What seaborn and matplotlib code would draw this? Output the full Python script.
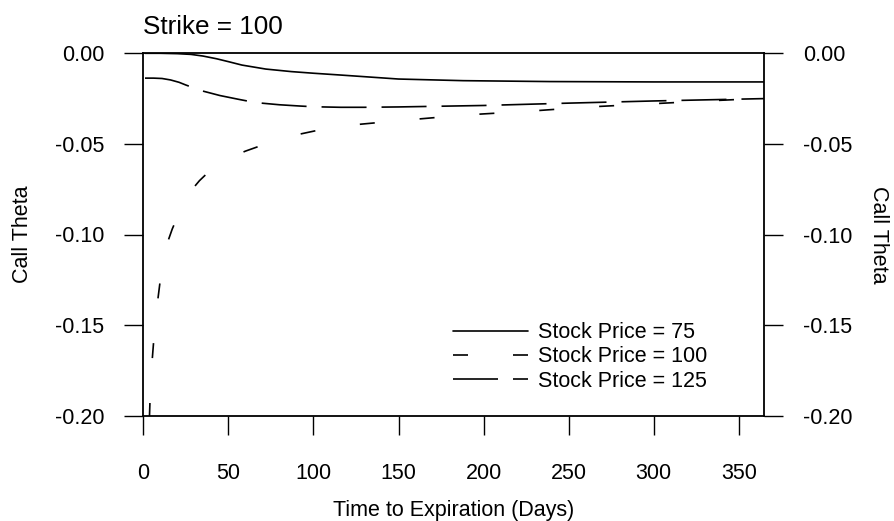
import matplotlib
matplotlib.use("Agg")
import matplotlib.pyplot as plt
from matplotlib.lines import Line2D
import seaborn as sns
import pandas as pd

# Call theta (per day) versus days to expiration, strike 100
days_75 = [1, 10, 20, 28, 35, 43, 50, 58, 72, 87, 100, 116, 150, 188, 239, 300, 365]
theta_75 = [0.0, -0.0000, -0.0002, -0.0006, -0.0015, -0.0030, -0.0046, -0.0065,
            -0.0087, -0.0101, -0.0110, -0.0120, -0.0142, -0.0151, -0.0156,
            -0.0158, -0.0158]

days_100 = [1, 2, 3, 4, 5, 6, 8, 10, 14, 17, 22, 27, 33, 40, 50, 60, 75, 90,
            105, 120, 150, 190, 226, 262, 296, 331, 365]
theta_100 = [-0.370, -0.265, -0.218, -0.190, -0.172, -0.160, -0.140, -0.125,
             -0.105, -0.097, -0.086, -0.077, -0.0703, -0.064, -0.058, -0.054,
             -0.049, -0.045, -0.042, -0.0398, -0.0372, -0.034, -0.032, -0.0296,
             -0.028, -0.0263, -0.0248]

days_125 = [1, 6, 11, 16, 21, 25, 34, 45, 56, 66, 80, 92, 100, 116, 130, 150,
            200, 250, 300, 340, 365]
theta_125 = [-0.0137, -0.0137, -0.0139, -0.0147, -0.0160, -0.0175, -0.0206,
             -0.0233, -0.0254, -0.0272, -0.0284, -0.0291, -0.0295, -0.0298,
             -0.0298, -0.0296, -0.0288, -0.0275, -0.0263, -0.0255, -0.0250]

series_labels = ["Stock Price = 75", "Stock Price = 100", "Stock Price = 125"]
x_ticks = [0, 50, 100, 150, 200, 250, 300, 350]
y_ticks = [0.0, -0.05, -0.10, -0.15, -0.20]
y_tick_labels = ["0.00", "-0.05", "-0.10", "-0.15", "-0.20"]

sns.set_style("white")
plt.rcParams["font.family"] = ["Liberation Sans", "DejaVu Sans"]
plt.rcParams["lines.scale_dashes"] = False
plt.rcParams["text.color"] = "black"
plt.rcParams["axes.labelcolor"] = "black"

fig = plt.figure(figsize=(8.95, 5.21), dpi=100)
ax = fig.add_axes([143.3 / 895, 1 - 415.7 / 521, 621 / 895, 362.4 / 521])

# dash patterns in points: (on, off)
short_dash = (10.8, 32.4)
long_dash = (32.4, 10.8)
curve_styles = ["-", (11.5, short_dash), (0, long_dash)]
legend_styles = ["-", (0, short_dash), (0, long_dash)]

frames = [
    pd.DataFrame({"days": days_75, "theta": theta_75}),
    pd.DataFrame({"days": days_100, "theta": theta_100}),
    pd.DataFrame({"days": days_125, "theta": theta_125}),
]
for df, ls in zip(frames, curve_styles):
    sns.lineplot(data=df, x="days", y="theta", ax=ax, color="black",
                 linewidth=1.2, linestyle=ls, estimator=None, sort=False,
                 legend=False)

ax.set_xlim(1, 365)
ax.set_ylim(-0.20, 0.0)
ax.set_xticks(x_ticks)
ax.set_xticklabels([str(v) for v in x_ticks])
ax.set_yticks(y_ticks)
ax.set_yticklabels(y_tick_labels)

for sp in ax.spines.values():
    sp.set_visible(True)
    sp.set_color("black")
    sp.set_linewidth(1.3)

ax.tick_params(axis="x", direction="out", length=13.7, width=1.0,
               pad=20, labelsize=15.5, colors="black", bottom=True)
ax.tick_params(axis="y", direction="out", length=13.7, width=1.0,
               pad=14.4, labelsize=15.5, colors="black", left=True)

ax.set_xlabel("Time to Expiration (Days)", fontsize=15.5, labelpad=12,
              color="black")
ax.set_ylabel("Call Theta", fontsize=15.5, labelpad=16, color="black")

twin = ax.twinx()
twin.set_ylim(ax.get_ylim())
twin.set_yticks(y_ticks)
twin.set_yticklabels(y_tick_labels)
twin.tick_params(axis="y", direction="out", length=13.7, width=1.0,
                 pad=14.4, labelsize=15.5, colors="black", right=True)
for sp in twin.spines.values():
    sp.set_visible(False)
twin.set_ylabel("Call Theta", fontsize=15.5, rotation=270, va="bottom",
                labelpad=11, color="black")

ax.set_title("Strike = 100", loc="left", fontsize=18.8, pad=14,
             color="black")

handles = [Line2D([], [], color="black", linewidth=1.2, linestyle=ls)
           for ls in legend_styles]
leg = ax.legend(handles, series_labels, loc="center left",
                bbox_to_anchor=((453 - 143.3) / 621, (415.7 - 357) / 362.4),
                frameon=False, fontsize=15.5, handlelength=3.5,
                handletextpad=0.45, labelspacing=0.16, borderpad=0,
                borderaxespad=0)
for t in leg.get_texts():
    t.set_color("black")

fig.savefig("out.png", dpi=100)
